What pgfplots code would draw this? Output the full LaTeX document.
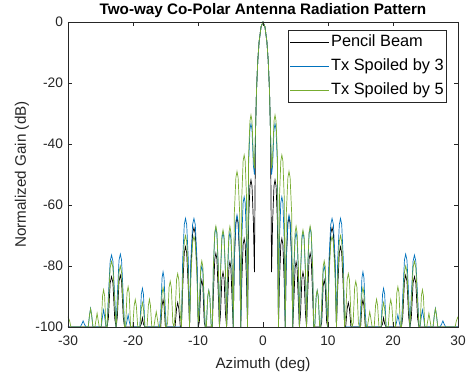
\documentclass[border=0pt]{standalone}
\usepackage{fontspec}
\setmainfont{Liberation Sans}
\usepackage{pgfplots}
\usepackage{pgfplotstable}
\pgfplotsset{compat=1.18}
\definecolor{mblue}{RGB}{0,114,189}
\definecolor{mgreen}{RGB}{119,172,48}
\definecolor{axgray}{RGB}{38,38,38}
\pgfplotstableread{
x bk bl gr
-30.00 -100 -100 -96.6
-29.75 -100 -100 -98
-29.55 -100 -100 -100
-29.40 -100 -100 -100
-28.30 -100 -100 -100
-28.11 -100 -100 -100
-27.86 -100 -99 -100
-27.675 -100 -98 -100
-27.49 -100 -99 -100
-27.24 -100 -100 -100
-27.05 -100 -100 -100
-26.89 -100 -100 -100
-26.68 -100 -95.9 -96
-26.525 -100 -93.9 -94
-26.37 -100 -95.9 -96
-26.16 -100 -100 -100
-26.00 -100 -100 -100
-25.86 -100 -100 -100
-25.67 -100 -100 -97.5
-25.525 -100 -100 -95.5
-25.38 -100 -100 -97.5
-25.19 -100 -100 -100
-25.05 -100 -100 -100
-24.89 -100 -100 -100
-24.68 -100 -96.4 -89.8
-24.525 -100 -94.4 -87.8
-24.37 -100 -96.4 -89.8
-24.16 -100 -100 -100
-24.00 -100 -100 -100
-23.79 -97.2 -90.1 -92.2
-23.51 -85.5 -78.4 -80.5
-23.30 -83.5 -76.4 -78.5
-23.09 -85.5 -78.4 -80.5
-22.81 -97.2 -90.1 -92.2
-22.60 -100 -100 -100
-22.41 -96.7 -89.8 -93.7
-22.15 -85 -78.1 -82
-21.95 -83 -76.1 -80
-21.76 -85 -78.1 -82
-21.50 -96.7 -89.8 -93.7
-21.30 -100 -100 -100
-21.14 -100 -100 -100
-20.92 -100 -98 -88.8
-20.75 -100 -96 -86.8
-20.59 -100 -98 -88.8
-20.37 -100 -100 -100
-20.20 -100 -100 -100
-20.04 -100 -100 -100
-19.82 -100 -100 -93
-19.65 -100 -100 -91
-19.49 -100 -100 -93
-19.27 -100 -100 -100
-19.10 -100 -100 -100
-18.94 -100 -100 -100
-18.72 -99 -89.3 -94
-18.55 -97 -87.3 -92
-18.39 -99 -89.3 -94
-18.17 -100 -100 -100
-18.00 -100 -100 -100
-17.84 -100 -100 -100
-17.63 -100 -100 -92.9
-17.475 -100 -100 -90.9
-17.32 -100 -100 -92.9
-17.11 -100 -100 -100
-16.95 -100 -100 -100
-16.79 -100 -100 -100
-16.58 -100 -100 -97
-16.425 -100 -100 -95
-16.27 -100 -100 -97
-16.06 -100 -100 -100
-15.90 -100 -100 -100
-15.74 -100 -95.6 -100
-15.53 -93 -83.9 -89
-15.375 -91 -81.9 -87
-15.22 -93 -83.9 -89
-15.01 -100 -95.6 -100
-14.85 -100 -100 -100
-14.68 -100 -100 -98.7
-14.45 -100 -100 -87
-14.275 -100 -100 -85
-14.10 -100 -100 -87
-13.87 -100 -100 -98.7
-13.70 -100 -100 -100
-13.53 -100 -100 -96.2
-13.30 -94 -100 -84.5
-13.125 -92 -100 -82.5
-12.95 -94 -100 -84.5
-12.72 -100 -100 -96.2
-12.55 -100 -100 -100
-12.36 -87.4 -78.1 -83.7
-12.11 -75.7 -66.4 -72.0
-11.925 -73.7 -64.4 -70
-11.74 -75.7 -66.4 -72.0
-11.49 -87.4 -78.1 -83.7
-11.30 -100 -100 -100
-11.10 -81.1 -78.1 -84.0
-10.83 -69.4 -66.4 -72.3
-10.625 -67.4 -64.4 -70.3
-10.42 -69.4 -66.4 -72.3
-10.15 -81.1 -78.1 -84.0
-9.95 -100 -100 -100
-9.79 -98.3 -93.7 -92.0
-9.58 -86.6 -82.0 -80.3
-9.415 -84.6 -80 -78.3
-9.25 -86.6 -82.0 -80.3
-9.04 -98.3 -93.7 -92.0
-8.88 -100 -100 -100
-8.72 -100 -100 -100
-8.50 -100 -90 -90
-8.34 -100 -88 -88
-8.18 -100 -90 -90
-7.96 -100 -100 -100
-7.80 -100 -100 -100
-7.64 -89.5 -81.2 -80.6
-7.42 -77.8 -69.5 -68.9
-7.25 -75.8 -67.5 -66.9
-7.09 -77.8 -69.5 -68.9
-6.87 -89.5 -81.2 -80.6
-6.70 -100 -100 -100
-6.54 -95.7 -82.7 -81.9
-6.32 -84.0 -71.0 -70.2
-6.15 -82 -69 -68.2
-5.99 -84.0 -71.0 -70.2
-5.77 -95.7 -82.7 -81.9
-5.60 -100 -100 -100
-5.45 -92.3 -82.7 -80.7
-5.24 -80.6 -71.0 -69.0
-5.09 -78.6 -69 -67
-4.94 -80.6 -71.0 -69.0
-4.73 -92.3 -82.7 -80.7
-4.58 -100 -100 -100
-4.41 -77.7 -77.0 -62.7
-4.17 -66.0 -65.3 -51.0
-4.00 -64 -63.3 -49
-3.83 -66.0 -65.3 -51.0
-3.59 -77.7 -77.0 -62.7
-3.42 -100 -100 -100
-3.26 -84.7 -71.0 -57.3
-3.06 -73.0 -59.3 -45.6
-2.90 -71 -57.3 -43.6
-2.74 -73.0 -59.3 -45.6
-2.54 -84.7 -71.0 -57.3
-2.38 -100 -100 -100
-2.22 -65.5 -47.0 -44.2
-2.01 -53.8 -35.3 -32.5
-1.85 -51.8 -33.3 -30.5
-1.69 -53.8 -35.3 -32.5
-1.48 -65.5 -47.0 -44.2
-1.32 -82 -50 -48
-1.15 -35.7 -35.7 -35.7
-1.00 -22.5 -22.5 -22.5
-0.80 -12.6 -12.6 -12.6
-0.60 -6.5 -6.5 -6.5
-0.30 -1.6 -1.6 -1.6
0.00 0 0 0
0.30 -1.6 -1.6 -1.6
0.60 -6.5 -6.5 -6.5
0.80 -12.6 -12.6 -12.6
1.00 -22.5 -22.5 -22.5
1.15 -35.7 -35.7 -35.7
1.32 -82 -50 -48
1.48 -65.5 -47.0 -44.2
1.69 -53.8 -35.3 -32.5
1.85 -51.8 -33.3 -30.5
2.01 -53.8 -35.3 -32.5
2.22 -65.5 -47.0 -44.2
2.38 -100 -100 -100
2.54 -84.7 -71.0 -57.3
2.74 -73.0 -59.3 -45.6
2.90 -71 -57.3 -43.6
3.06 -73.0 -59.3 -45.6
3.26 -84.7 -71.0 -57.3
3.42 -100 -100 -100
3.59 -77.7 -77.0 -62.7
3.83 -66.0 -65.3 -51.0
4.00 -64 -63.3 -49
4.17 -66.0 -65.3 -51.0
4.41 -77.7 -77.0 -62.7
4.58 -100 -100 -100
4.73 -92.3 -82.7 -80.7
4.94 -80.6 -71.0 -69.0
5.09 -78.6 -69 -67
5.24 -80.6 -71.0 -69.0
5.45 -92.3 -82.7 -80.7
5.60 -100 -100 -100
5.77 -95.7 -82.7 -81.9
5.99 -84.0 -71.0 -70.2
6.15 -82 -69 -68.2
6.32 -84.0 -71.0 -70.2
6.54 -95.7 -82.7 -81.9
6.70 -100 -100 -100
6.87 -89.5 -81.2 -80.6
7.09 -77.8 -69.5 -68.9
7.25 -75.8 -67.5 -66.9
7.42 -77.8 -69.5 -68.9
7.64 -89.5 -81.2 -80.6
7.80 -100 -100 -100
7.96 -100 -100 -100
8.18 -100 -90 -90
8.34 -100 -88 -88
8.50 -100 -90 -90
8.72 -100 -100 -100
8.88 -100 -100 -100
9.04 -98.3 -93.7 -92.0
9.25 -86.6 -82.0 -80.3
9.415 -84.6 -80 -78.3
9.58 -86.6 -82.0 -80.3
9.79 -98.3 -93.7 -92.0
9.95 -100 -100 -100
10.15 -81.1 -78.1 -84.0
10.42 -69.4 -66.4 -72.3
10.625 -67.4 -64.4 -70.3
10.83 -69.4 -66.4 -72.3
11.10 -81.1 -78.1 -84.0
11.30 -100 -100 -100
11.49 -87.4 -78.1 -83.7
11.74 -75.7 -66.4 -72.0
11.925 -73.7 -64.4 -70
12.11 -75.7 -66.4 -72.0
12.36 -87.4 -78.1 -83.7
12.55 -100 -100 -100
12.72 -100 -100 -96.2
12.95 -94 -100 -84.5
13.125 -92 -100 -82.5
13.30 -94 -100 -84.5
13.53 -100 -100 -96.2
13.70 -100 -100 -100
13.87 -100 -100 -98.7
14.10 -100 -100 -87
14.275 -100 -100 -85
14.45 -100 -100 -87
14.68 -100 -100 -98.7
14.85 -100 -100 -100
15.01 -100 -95.6 -100
15.22 -93 -83.9 -89
15.375 -91 -81.9 -87
15.53 -93 -83.9 -89
15.74 -100 -95.6 -100
15.90 -100 -100 -100
16.06 -100 -100 -100
16.27 -100 -100 -97
16.425 -100 -100 -95
16.58 -100 -100 -97
16.79 -100 -100 -100
16.95 -100 -100 -100
17.11 -100 -100 -100
17.32 -100 -100 -92.9
17.475 -100 -100 -90.9
17.63 -100 -100 -92.9
17.84 -100 -100 -100
18.00 -100 -100 -100
18.17 -100 -100 -100
18.39 -99 -89.3 -94
18.55 -97 -87.3 -92
18.72 -99 -89.3 -94
18.94 -100 -100 -100
19.10 -100 -100 -100
19.27 -100 -100 -100
19.49 -100 -100 -93
19.65 -100 -100 -91
19.82 -100 -100 -93
20.04 -100 -100 -100
20.20 -100 -100 -100
20.37 -100 -100 -100
20.59 -100 -98 -88.8
20.75 -100 -96 -86.8
20.92 -100 -98 -88.8
21.14 -100 -100 -100
21.30 -100 -100 -100
21.50 -96.7 -89.8 -93.7
21.76 -85 -78.1 -82
21.95 -83 -76.1 -80
22.15 -85 -78.1 -82
22.41 -96.7 -89.8 -93.7
22.60 -100 -100 -100
22.81 -97.2 -90.1 -92.2
23.09 -85.5 -78.4 -80.5
23.30 -83.5 -76.4 -78.5
23.51 -85.5 -78.4 -80.5
23.79 -97.2 -90.1 -92.2
24.00 -100 -100 -100
24.16 -100 -100 -100
24.37 -100 -96.4 -89.8
24.525 -100 -94.4 -87.8
24.68 -100 -96.4 -89.8
24.89 -100 -100 -100
25.05 -100 -100 -100
25.19 -100 -100 -100
25.38 -100 -100 -97.5
25.525 -100 -100 -95.5
25.67 -100 -100 -97.5
25.86 -100 -100 -100
26.00 -100 -100 -100
26.16 -100 -100 -100
26.37 -100 -95.9 -96
26.525 -100 -93.9 -94
26.68 -100 -95.9 -96
26.89 -100 -100 -100
27.05 -100 -100 -100
27.24 -100 -100 -100
27.49 -100 -99 -100
27.675 -100 -98 -100
27.86 -100 -99 -100
28.11 -100 -100 -100
28.30 -100 -100 -100
29.40 -100 -100 -100
29.55 -100 -100 -100
29.75 -100 -100 -98
30.00 -100 -100 -96.6
}\patterndata

\begin{document}
\begin{tikzpicture}
\useasboundingbox (-68bp,-55bp) rectangle (406bp,327bp);
\begin{axis}[
  scale only axis, width=390bp, height=305bp,
  at={(0,0)}, anchor=south west,
  xmin=-30, xmax=30, ymin=-100, ymax=0,
  xtick={-30,-20,-10,0,10,20,30},
  xticklabels={-30,-20,-10,0,10,20,30},
  ytick={-100,-80,-60,-40,-20,0},
  yticklabels={-100,-80,-60,-40,-20,0},
  tick align=inside, major tick length=4.5bp,
  axis line style={axgray, line width=0.7pt},
  every tick/.style={axgray, line width=0.7pt},
  tick label style={font=\fontsize{13.8}{16}\selectfont, text=axgray},
  xticklabel style={yshift=-5bp},
  yticklabel style={xshift=-1.5bp},
  axis on top,
  title={Two-way Co-Polar Antenna Radiation Pattern},
  every axis title/.style={at={(axis description cs:0.5,1)}, anchor=center, yshift=11bp, font=\fontsize{15.3}{18}\selectfont\bfseries},
  xlabel={Azimuth (deg)},
  every axis x label/.style={at={(axis description cs:0.5,0)}, anchor=center, yshift=-38bp, font=\fontsize{15.3}{18}\selectfont, text=axgray},
  ylabel={Normalized Gain (dB)},
  every axis y label/.style={at={(axis description cs:-0.118,0.5)}, rotate=90, anchor=center, font=\fontsize{15.3}{18}\selectfont, text=axgray},
  legend cell align=left,
  legend image code/.code={\draw[#1, line width=0.8pt] (0bp,0bp) -- (35bp,0bp); \path (0bp,0bp) -- (39bp,0bp);},
  legend style={at={(rel axis cs:0.972,0.974)}, anchor=north east,
    draw=axgray, line width=0.7pt, fill=white,
    font=\fontsize{16.4}{19}\selectfont,
    inner xsep=1.5bp, inner ysep=2.75bp, row sep=5.5bp,
    nodes={inner sep=1.5bp, text height=12bp, text depth=3.5bp}},
]
\addplot[black, line width=0.7pt] table[x=x, y=bk] {\patterndata};
\addplot[mblue, line width=0.7pt] table[x=x, y=bl] {\patterndata};
\addplot[mgreen, line width=0.7pt] table[x=x, y=gr] {\patterndata};
\legend{Pencil Beam, Tx Spoiled by 3, Tx Spoiled by 5}
\end{axis}
\end{tikzpicture}
\end{document}
